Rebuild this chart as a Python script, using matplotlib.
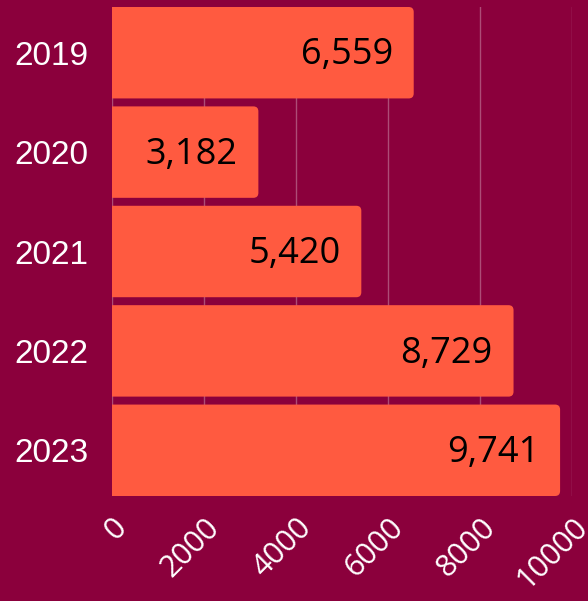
import matplotlib
matplotlib.use("Agg")
import matplotlib.pyplot as plt
from matplotlib.patches import FancyBboxPatch
from matplotlib.transforms import ScaledTranslation

# data
years = ["2019", "2020", "2021", "2022", "2023"]
values = [6559, 3182, 5420, 8729, 9741]
xticks = [0, 2000, 4000, 6000, 8000, 10000]

bg = "#8B003C"
bar_color = "#FF5A40"

W, H = 588, 601
fig = plt.figure(figsize=(W / 100, H / 100), dpi=100, facecolor=bg)
# axes box in pixels: left 112, right 572, top 7, bottom 496
ax = fig.add_axes([112 / W, 1 - 496 / H, 460 / W, 489 / H], facecolor=bg)

ax.set_xlim(0, 10000)
ax.set_ylim(len(years) - 0.54, -0.46)

# rounded corners: radius in pixels, converted for both axis scales
radius_px = 5
x_per_px = 10000 / 460
y_per_px = (len(years) - 0.08) / 489
bar_h = 0.92
for i, v in enumerate(values):
    start = -300  # start left of 0 so the left corners get clipped
    p = FancyBboxPatch((start, i - bar_h / 2), v - start, bar_h,
                       boxstyle=f"round,pad=0,rounding_size={radius_px * x_per_px}",
                       mutation_aspect=y_per_px / x_per_px,
                       facecolor=bar_color, edgecolor="none", zorder=2)
    ax.add_patch(p)
    ax.annotate(f"{v:,}", xy=(v, i), xytext=(-15, -2), textcoords="offset points",
                ha="right", va="center", fontsize=26, family="Open Sans",
                color="black", zorder=3)

ax.set_yticks(range(len(years)))
ax.set_yticklabels(years, fontsize=24, family="Liberation Sans", color="white")
ax.set_xticks(xticks)
ax.set_xticklabels([str(t) for t in xticks], fontsize=22, family="Open Sans",
                   color="white", rotation=45, ha="right", va="top",
                   rotation_mode="anchor")
shift = ScaledTranslation(-4 / 100, 0, fig.dpi_scale_trans)
for lab in ax.get_xticklabels():
    lab.set_transform(lab.get_transform() + shift)
ax.tick_params(axis="y", length=0, pad=17)
ax.tick_params(axis="x", length=0, pad=12)

ax.grid(axis="x", color="white", alpha=0.3, linewidth=1)
ax.set_axisbelow(True)
for s in ax.spines.values():
    s.set_visible(False)

fig.savefig("out.png", dpi=100, facecolor=bg)
